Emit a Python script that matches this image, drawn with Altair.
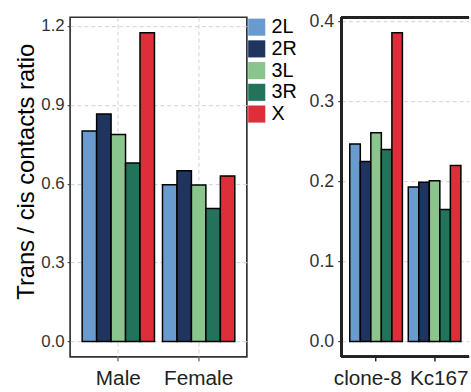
import altair as alt
import pandas as pd

chroms = ["2L", "2R", "3L", "3R", "X"]
chrom_colors = ["#6A9BCF", "#1F355F", "#8AC58D", "#23735A", "#DD2E3A"]

sex_groups = ["Male", "Female"]
male_vals = [0.800, 0.865, 0.787, 0.679, 1.174]
female_vals = [0.596, 0.649, 0.595, 0.506, 0.629]

cell_groups = ["clone-8", "Kc167"]
clone8_vals = [0.247, 0.225, 0.261, 0.240, 0.386]
kc167_vals = [0.193, 0.199, 0.201, 0.165, 0.220]

left_ticks = [0.0, 0.3, 0.6, 0.9, 1.2]
right_ticks = [0.0, 0.1, 0.2, 0.3, 0.4]

FONT = "Liberation Sans"
GRID = "#C9D3D3"

left_df = pd.DataFrame({
    "group": [g for g in sex_groups for _ in chroms],
    "chrom": chroms * 2,
    "value": male_vals + female_vals,
})
right_df = pd.DataFrame({
    "group": [g for g in cell_groups for _ in chroms],
    "chrom": chroms * 2,
    "value": clone8_vals + kc167_vals,
})
right_labels = pd.DataFrame({"group": cell_groups})

H = 344
LW = 179
RW = 129

color_scale = alt.Scale(domain=chroms, range=chrom_colors)


def yaxis(ticks, title=None, tick_color="#333333", pad=3, tsize=3, fsize=17):
    kw = dict(
        values=ticks, format=".1f", labelFont=FONT, labelFontSize=fsize,
        labelColor="#333333", tickColor=tick_color, tickSize=tsize, tickWidth=1,
        labelPadding=pad, domain=False, grid=True, gridColor=GRID,
        gridDash=[4, 3], gridWidth=1,
    )
    if title:
        kw.update(title=title, titleFont=FONT, titleFontSize=24,
                  titleFontWeight="normal", titleColor="black",
                  titleAngle=-90, titleX=-37, titleY=156,
                  titleAlign="center", titleBaseline="alphabetic")
    else:
        kw.update(title=None)
    return alt.Axis(**kw)


left_bars = alt.Chart(left_df).mark_bar(stroke="black", strokeWidth=1.5).encode(
    x=alt.X("group:N", sort=sex_groups,
            scale=alt.Scale(paddingInner=0.1, paddingOuter=0.15),
            axis=alt.Axis(title=None, labelAngle=0, labelFont=FONT,
                          labelFontSize=21, labelColor="#222222",
                          tickColor="#333333", tickSize=4, labelPadding=7,
                          domain=False, grid=True, gridColor=GRID,
                          gridDash=[4, 3], bandPosition=0.5)),
    xOffset=alt.XOffset("chrom:N", sort=chroms,
                        scale=alt.Scale(paddingInner=0, paddingOuter=0)),
    y=alt.Y("value:Q",
            scale=alt.Scale(domain=[-0.059, 1.233], nice=False, zero=False),
            axis=yaxis(left_ticks, title="Trans / cis contacts ratio")),
    y2=alt.datum(0),
    color=alt.Color("chrom:N", sort=chroms, scale=color_scale,
                    legend=alt.Legend(title=None, orient="right", offset=0,
                                      padding=0, symbolType="square",
                                      symbolSize=300, symbolStrokeWidth=0,
                                      labelFont=FONT, labelFontSize=20,
                                      labelColor="black", labelOffset=5,
                                      rowPadding=2)),
)

left = alt.layer(left_bars).properties(
    width=LW, height=H,
    view=alt.ViewBackground(stroke="#333333", strokeWidth=1.7),
)

rx = alt.X("group:N", sort=cell_groups,
           scale=alt.Scale(paddingInner=0.1, paddingOuter=0.139),
           axis=alt.Axis(title=None, labels=False, tickColor="#222222",
                         tickSize=4, tickWidth=1.5, domain=False, grid=False,
                         bandPosition=0.5))

right_bars = alt.Chart(right_df).mark_bar(stroke="black", strokeWidth=1.5).encode(
    x=rx,
    xOffset=alt.XOffset("chrom:N", sort=chroms,
                        scale=alt.Scale(paddingInner=0, paddingOuter=0)),
    y=alt.Y("value:Q",
            scale=alt.Scale(domain=[-0.0193, 0.4053], nice=False, zero=False),
            axis=yaxis(right_ticks, tick_color="#222222", pad=4, tsize=4,
                       fsize=18)),
    y2=alt.datum(0),
    color=alt.Color("chrom:N", sort=chroms, scale=color_scale, legend=None),
)

label_a = alt.Chart(right_labels).transform_filter(
    alt.datum.group == cell_groups[0]).mark_text(
    align="right", baseline="top", dx=26, font=FONT, fontSize=21,
    color="#222222").encode(
    x=alt.X("group:N", sort=cell_groups), y=alt.value(H + 11), text="group:N")
label_b = alt.Chart(right_labels).transform_filter(
    alt.datum.group == cell_groups[1]).mark_text(
    align="left", baseline="top", dx=-25, font=FONT, fontSize=21,
    color="#222222").encode(
    x=alt.X("group:N", sort=cell_groups), y=alt.value(H + 11), text="group:N")

border_top = alt.Chart(right_df).mark_rule(color="#222222", strokeWidth=2.3).encode(
    x=alt.value(0), x2=alt.value(RW), y=alt.value(0))
border_bottom = alt.Chart(right_df).mark_rule(color="#222222", strokeWidth=2.3).encode(
    x=alt.value(0), x2=alt.value(RW), y=alt.value(H))
border_left = alt.Chart(right_df).mark_rule(color="#222222", strokeWidth=2.5).encode(
    x=alt.value(0), y=alt.value(0), y2=alt.value(H))

right = alt.layer(right_bars, label_a, label_b, border_top, border_bottom,
                  border_left).properties(
    width=RW, height=H,
    view=alt.ViewBackground(stroke=None),
)

chart = alt.hconcat(left, right, spacing=10).resolve_scale(
    color="shared", xOffset="independent").resolve_legend(
    color="independent").properties(
    padding={"left": 14, "top": 10, "right": 0, "bottom": 0},
    background="white",
).configure_view(stroke=None)

chart.save("out.html", embed_options={"renderer": "svg", "actions": False})
